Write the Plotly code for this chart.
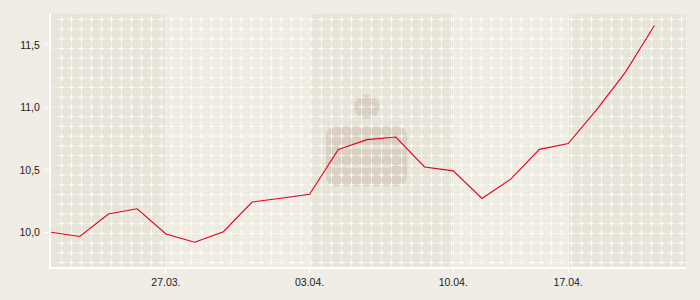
import base64
import plotly.graph_objects as go

# ---- data ----
dates = ["23.03.", "24.03.", "25.03.", "26.03.", "27.03.",
         "30.03.", "31.03.", "01.04.", "02.04.", "03.04.",
         "06.04.", "07.04.", "08.04.", "09.04.", "10.04.",
         "14.04.", "15.04.", "16.04.", "17.04.",
         "20.04.", "21.04.", "22.04."]
prices = [10.00, 9.966, 10.146, 10.188, 9.987,
          9.920, 10.005, 10.242, 10.273, 10.305,
          10.664, 10.742, 10.763, 10.523, 10.492,
          10.271, 10.426, 10.664, 10.711,
          10.984, 11.285, 11.656]
x_ticks = ["27.03.", "03.04.", "10.04.", "17.04."]
y_ticks = [10.0, 10.5, 11.0, 11.5]

# ---- style ----
PAGE_BG = "#f0ede6"
LIGHT_BAND = "#efece4"
DARK_BAND = "#e7e4da"
LOGO = "#d9d0c3"
SLIT = "#e3ddd2"
RED = "#e2001a"
FONT = "Liberation Sans, Arial, sans-serif"

W, H = 700, 300
ML, MR, MT, MB = 51, 14, 14, 26
PW, PH = W - ML - MR, H - MT - MB

X_RANGE = [0, len(dates) - 1 + 1.1]
Y_RANGE = [9.722, 11.748]


def svg_uri(body, w, h):
    s = (f'<svg xmlns="http://www.w3.org/2000/svg" width="{w}" height="{h}" '
         f'viewBox="0 0 {w} {h}" preserveAspectRatio="none" '
         f'shape-rendering="crispEdges">{body}</svg>')
    return "data:image/svg+xml;base64," + base64.b64encode(s.encode()).decode()


# solid swatch used for the week bands
band_src = svg_uri(f'<rect width="10" height="10" fill="{DARK_BAND}"/>', 10, 10)

# watermark logo + decorative 10px grid with crosses
parts = []
parts.append(f'<circle cx="315.7" cy="95.3" r="12.7" fill="{LOGO}" shape-rendering="auto"/>')
parts.append(f'<rect x="275" y="115.3" width="81.3" height="61.7" rx="10" fill="{LOGO}" shape-rendering="auto"/>')
parts.append(f'<rect x="288" y="135" width="68.3" height="3.3" fill="{SLIT}"/>')
parts.append(f'<rect x="279.7" y="155.3" width="58" height="3.4" fill="{SLIT}"/>')
gl = []
for gx in range(10, PW, 10):
    gl.append(f"M{gx + 0.5},0V{PH}")
for gy in range(5, PH, 10):
    gl.append(f"M0,{gy + 0.5}H{PW}")
parts.append(f'<path d="{"".join(gl)}" stroke="#ffffff" stroke-opacity="0.35" stroke-width="1" fill="none"/>')
cr = []
for gx in range(10, PW, 10):
    for gy in range(5, PH, 10):
        cr.append(f"M{gx - 2},{gy + 0.5}h5M{gx + 0.5},{gy - 2}v5")
parts.append(f'<path d="{"".join(cr)}" stroke="#ffffff" stroke-opacity="0.95" stroke-width="1" fill="none"/>')
grid_src = svg_uri("".join(parts), PW, PH)

fig = go.Figure()
fig.add_trace(go.Scatter(
    x=dates, y=prices, mode="lines",
    line=dict(color=RED, width=1.1),
    hoverinfo="skip", showlegend=False,
))

images = []
# week bands (alternating), boundaries at tick dates
bounds = [X_RANGE[0]] + [dates.index(d) for d in x_ticks] + [X_RANGE[1]]
for i in range(len(bounds) - 1):
    if i % 2 == 0:
        images.append(dict(source=band_src, xref="x", yref="paper",
                           x=bounds[i], sizex=bounds[i + 1] - bounds[i],
                           y=1, sizey=1, xanchor="left", yanchor="top",
                           sizing="stretch", layer="below"))
images.append(dict(source=grid_src, xref="paper", yref="paper", x=0, y=1,
                   sizex=1, sizey=1, xanchor="left", yanchor="top",
                   sizing="stretch", layer="below"))

fig.update_layout(
    width=W, height=H,
    margin=dict(l=ML, r=MR, t=MT, b=MB, pad=0),
    paper_bgcolor=PAGE_BG,
    plot_bgcolor=LIGHT_BAND,
    separators=",.",
    font=dict(family=FONT, size=10.5, color="#222222"),
    images=images,
    xaxis=dict(
        type="category", range=X_RANGE,
        tickmode="array", tickvals=x_ticks, ticktext=x_ticks,
        showgrid=True, gridcolor="rgba(255,255,255,0.35)", gridwidth=1,
        showline=True, linecolor="#ffffff", linewidth=2,
        ticks="outside", ticklen=4, tickcolor="#ffffff",
        zeroline=False, fixedrange=True,
    ),
    yaxis=dict(
        range=Y_RANGE,
        tickmode="array", tickvals=y_ticks, tickformat=".1f",
        showgrid=False,
        showline=True, linecolor="#ffffff", linewidth=2,
        ticks="outside", ticklen=4, tickcolor="#ffffff",
        ticklabelstandoff=3,
        zeroline=False, fixedrange=True,
    ),
)

fig.write_html("out.html")
